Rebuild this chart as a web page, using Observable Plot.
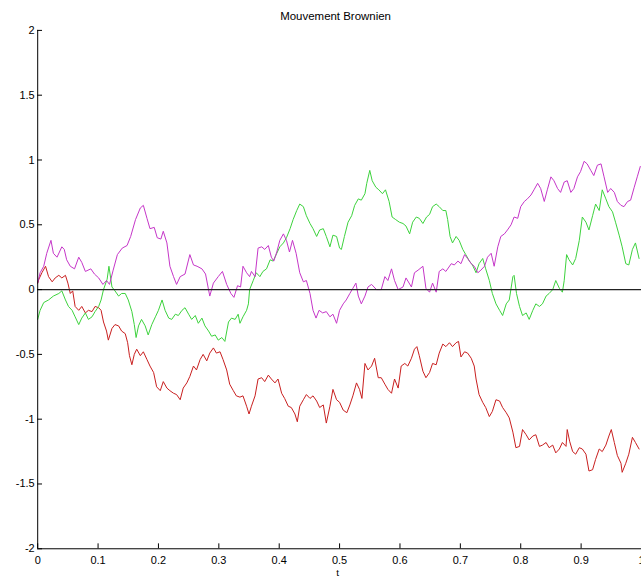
<!DOCTYPE html>
<html>
<head>
<meta charset="utf-8">
<script src="https://cdn.jsdelivr.net/npm/d3@7"></script>
<script src="https://cdn.jsdelivr.net/npm/@observablehq/plot@0.6"></script>
<style>
html, body { margin: 0; padding: 0; background: #fff; overflow: hidden; }
#chart svg { display: block; }
</style>
</head>
<body>
<div id="chart"></div>
<script>
// [t, value] readings of each Brownian path
const magentaPath = [
  [0,0.05],[0.004,0.13],[0.010,0.18],[0.015,0.28],[0.022,0.38],[0.026,0.28],[0.032,0.25],[0.040,0.33],[0.044,0.31],[0.048,0.23],
  [0.054,0.18],[0.061,0.16],[0.068,0.25],[0.073,0.21],[0.079,0.14],[0.088,0.16],[0.094,0.12],[0.101,0.09],[0.108,0.04],[0.114,0.07],
  [0.119,0.04],[0.125,0.15],[0.132,0.27],[0.140,0.32],[0.148,0.34],[0.154,0.41],[0.162,0.54],[0.170,0.63],[0.175,0.65],[0.181,0.55],
  [0.186,0.47],[0.193,0.48],[0.198,0.40],[0.204,0.39],[0.208,0.45],[0.214,0.36],[0.219,0.18],[0.225,0.10],[0.230,0.04],[0.236,0.10],
  [0.244,0.12],[0.252,0.27],[0.258,0.19],[0.264,0.18],[0.272,0.16],[0.278,0.12],[0.285,-0.05],[0.291,0.05],[0.299,0.10],[0.306,0.14],
  [0.313,0.04],[0.320,-0.03],[0.325,-0.06],[0.331,0.03],[0.336,0.02],[0.340,0.18],[0.346,0.13],[0.351,0.10],[0.354,0.14],[0.360,0.10],
  [0.365,0.32],[0.371,0.33],[0.376,0.31],[0.382,0.34],[0.387,0.25],[0.391,0.22],[0.396,0.29],[0.401,0.38],[0.407,0.43],[0.412,0.38],
  [0.417,0.29],[0.422,0.38],[0.428,0.28],[0.434,0.13],[0.440,0.06],[0.445,0.07],[0.451,-0.03],[0.456,-0.16],[0.461,-0.22],[0.466,-0.16],
  [0.472,-0.18],[0.478,-0.17],[0.484,-0.21],[0.489,-0.19],[0.495,-0.26],[0.500,-0.16],[0.506,-0.11],[0.511,-0.08],[0.517,-0.03],[0.522,0.01],
  [0.527,0.05],[0.531,-0.05],[0.536,-0.11],[0.542,-0.05],[0.547,0.02],[0.553,0.04],[0.561,0.00],[0.569,0.00],[0.575,0.10],[0.580,0.07],
  [0.586,0.16],[0.591,0.07],[0.597,0.00],[0.605,0.02],[0.610,0.09],[0.619,0.02],[0.624,0.13],[0.630,0.15],[0.638,0.18],[0.643,0.01],
  [0.649,-0.02],[0.654,0.05],[0.660,-0.02],[0.665,0.14],[0.671,0.16],[0.676,0.14],[0.685,0.20],[0.690,0.19],[0.696,0.22],[0.701,0.20],
  [0.707,0.27],[0.712,0.24],[0.718,0.20],[0.723,0.18],[0.729,0.13],[0.734,0.15],[0.740,0.18],[0.745,0.25],[0.751,0.28],[0.756,0.18],
  [0.762,0.33],[0.767,0.41],[0.773,0.43],[0.778,0.46],[0.784,0.50],[0.789,0.56],[0.795,0.55],[0.800,0.64],[0.806,0.68],[0.811,0.70],
  [0.817,0.73],[0.822,0.77],[0.828,0.82],[0.833,0.78],[0.839,0.68],[0.844,0.77],[0.850,0.87],[0.855,0.84],[0.861,0.78],[0.866,0.75],
  [0.872,0.83],[0.877,0.84],[0.883,0.75],[0.888,0.78],[0.894,0.87],[0.899,0.91],[0.905,0.99],[0.910,0.97],[0.916,0.92],[0.921,0.88],
  [0.927,0.96],[0.933,0.97],[0.938,0.87],[0.944,0.75],[0.949,0.78],[0.955,0.75],[0.960,0.68],[0.966,0.65],[0.971,0.64],[0.977,0.68],
  [0.982,0.69],[0.988,0.79],[0.993,0.87],[0.998,0.95]
];

const greenPath = [
  [0,-0.23],[0.004,-0.16],[0.010,-0.10],[0.018,-0.08],[0.026,-0.05],[0.035,-0.03],[0.040,-0.01],[0.046,-0.08],[0.051,-0.13],[0.057,-0.16],
  [0.062,-0.21],[0.068,-0.27],[0.073,-0.22],[0.079,-0.18],[0.084,-0.23],[0.090,-0.21],[0.095,-0.17],[0.101,-0.13],[0.105,-0.08],[0.109,0.00],
  [0.115,0.08],[0.118,0.18],[0.123,0.02],[0.128,-0.01],[0.134,-0.05],[0.139,-0.03],[0.145,-0.03],[0.150,-0.08],[0.156,-0.17],[0.160,-0.27],
  [0.163,-0.37],[0.167,-0.28],[0.172,-0.23],[0.178,-0.28],[0.183,-0.35],[0.189,-0.27],[0.195,-0.21],[0.200,-0.16],[0.206,-0.08],[0.211,-0.16],
  [0.217,-0.22],[0.222,-0.23],[0.228,-0.19],[0.233,-0.20],[0.239,-0.16],[0.244,-0.14],[0.250,-0.19],[0.255,-0.23],[0.261,-0.20],[0.266,-0.26],
  [0.272,-0.22],[0.277,-0.28],[0.283,-0.32],[0.288,-0.36],[0.294,-0.35],[0.299,-0.39],[0.305,-0.37],[0.310,-0.40],[0.316,-0.25],[0.321,-0.22],
  [0.327,-0.23],[0.332,-0.19],[0.335,-0.26],[0.340,-0.21],[0.346,-0.16],[0.349,-0.11],[0.351,0.00],[0.357,0.07],[0.362,0.13],[0.368,0.10],
  [0.373,0.14],[0.379,0.16],[0.385,0.23],[0.390,0.22],[0.396,0.28],[0.401,0.33],[0.407,0.36],[0.412,0.40],[0.418,0.47],[0.423,0.54],
  [0.429,0.61],[0.434,0.66],[0.440,0.64],[0.445,0.57],[0.451,0.51],[0.456,0.47],[0.462,0.41],[0.467,0.46],[0.473,0.47],[0.478,0.41],
  [0.484,0.33],[0.489,0.42],[0.495,0.41],[0.500,0.32],[0.503,0.31],[0.508,0.41],[0.514,0.52],[0.520,0.57],[0.525,0.65],[0.531,0.70],
  [0.536,0.69],[0.542,0.74],[0.545,0.82],[0.550,0.92],[0.554,0.84],[0.560,0.79],[0.565,0.77],[0.571,0.74],[0.576,0.77],[0.582,0.68],
  [0.587,0.56],[0.593,0.54],[0.599,0.52],[0.605,0.51],[0.610,0.49],[0.616,0.43],[0.621,0.52],[0.627,0.56],[0.632,0.55],[0.638,0.51],
  [0.644,0.56],[0.649,0.58],[0.654,0.64],[0.660,0.66],[0.665,0.64],[0.671,0.61],[0.676,0.61],[0.679,0.54],[0.683,0.41],[0.687,0.36],
  [0.693,0.41],[0.698,0.38],[0.704,0.31],[0.709,0.27],[0.715,0.22],[0.720,0.19],[0.726,0.13],[0.731,0.20],[0.737,0.24],[0.742,0.16],
  [0.748,0.07],[0.753,-0.03],[0.759,-0.11],[0.765,-0.16],[0.770,-0.20],[0.776,-0.11],[0.781,-0.08],[0.787,0.10],[0.789,0.11],[0.793,-0.03],
  [0.798,-0.13],[0.803,-0.20],[0.809,-0.18],[0.814,-0.23],[0.820,-0.16],[0.825,-0.11],[0.831,-0.13],[0.836,-0.11],[0.842,-0.05],[0.847,-0.03],
  [0.853,0.00],[0.858,0.07],[0.864,0.01],[0.869,-0.02],[0.872,0.07],[0.876,0.27],[0.880,0.23],[0.886,0.19],[0.891,0.24],[0.897,0.38],
  [0.902,0.56],[0.908,0.52],[0.913,0.46],[0.919,0.57],[0.924,0.66],[0.930,0.61],[0.935,0.77],[0.941,0.70],[0.946,0.64],[0.952,0.60],
  [0.957,0.52],[0.963,0.42],[0.968,0.33],[0.974,0.20],[0.979,0.19],[0.985,0.31],[0.990,0.36],[0.996,0.24]
];

const redPath = [
  [0,0.05],[0.002,0.08],[0.007,0.13],[0.013,0.18],[0.018,0.10],[0.024,0.06],[0.029,0.09],[0.035,0.11],[0.040,0.09],[0.046,0.11],
  [0.050,0.05],[0.054,-0.03],[0.058,-0.01],[0.062,-0.13],[0.068,-0.16],[0.073,-0.13],[0.079,-0.18],[0.084,-0.16],[0.090,-0.17],[0.095,-0.13],
  [0.101,-0.14],[0.105,-0.16],[0.109,-0.25],[0.114,-0.32],[0.117,-0.39],[0.123,-0.30],[0.128,-0.27],[0.134,-0.28],[0.139,-0.32],[0.145,-0.34],
  [0.149,-0.41],[0.152,-0.51],[0.156,-0.58],[0.160,-0.50],[0.164,-0.46],[0.170,-0.51],[0.175,-0.48],[0.181,-0.54],[0.186,-0.59],[0.192,-0.64],
  [0.197,-0.75],[0.203,-0.78],[0.208,-0.71],[0.214,-0.76],[0.219,-0.78],[0.225,-0.80],[0.230,-0.81],[0.236,-0.85],[0.241,-0.76],[0.247,-0.72],
  [0.252,-0.67],[0.258,-0.59],[0.263,-0.62],[0.269,-0.54],[0.274,-0.50],[0.280,-0.55],[0.285,-0.49],[0.291,-0.45],[0.296,-0.49],[0.302,-0.48],
  [0.307,-0.54],[0.313,-0.62],[0.318,-0.73],[0.324,-0.78],[0.329,-0.82],[0.335,-0.83],[0.340,-0.82],[0.346,-0.90],[0.350,-0.96],[0.354,-0.90],
  [0.360,-0.82],[0.365,-0.69],[0.371,-0.68],[0.376,-0.71],[0.382,-0.66],[0.387,-0.69],[0.393,-0.72],[0.398,-0.69],[0.404,-0.80],[0.409,-0.84],
  [0.415,-0.90],[0.420,-0.91],[0.426,-0.96],[0.430,-1.02],[0.434,-0.90],[0.440,-0.85],[0.445,-0.81],[0.451,-0.84],[0.456,-0.82],[0.462,-0.86],
  [0.467,-0.91],[0.473,-0.89],[0.478,-1.03],[0.484,-0.90],[0.489,-0.77],[0.495,-0.85],[0.500,-0.87],[0.506,-0.93],[0.512,-0.95],[0.517,-0.89],
  [0.522,-0.82],[0.528,-0.72],[0.533,-0.77],[0.537,-0.84],[0.542,-0.57],[0.547,-0.62],[0.553,-0.59],[0.558,-0.53],[0.564,-0.68],[0.569,-0.68],
  [0.575,-0.73],[0.580,-0.77],[0.586,-0.80],[0.591,-0.69],[0.597,-0.76],[0.602,-0.59],[0.608,-0.57],[0.613,-0.59],[0.619,-0.53],[0.624,-0.46],
  [0.628,-0.44],[0.632,-0.51],[0.638,-0.63],[0.643,-0.68],[0.649,-0.64],[0.654,-0.57],[0.660,-0.58],[0.665,-0.49],[0.671,-0.42],[0.676,-0.44],
  [0.682,-0.41],[0.687,-0.44],[0.693,-0.41],[0.697,-0.40],[0.701,-0.52],[0.707,-0.48],[0.712,-0.49],[0.718,-0.53],[0.723,-0.59],[0.726,-0.69],
  [0.731,-0.81],[0.737,-0.87],[0.742,-0.91],[0.748,-0.98],[0.753,-0.94],[0.759,-0.85],[0.765,-0.86],[0.770,-0.91],[0.776,-0.95],[0.781,-0.99],
  [0.787,-1.10],[0.792,-1.22],[0.798,-1.21],[0.803,-1.08],[0.809,-1.12],[0.814,-1.16],[0.820,-1.13],[0.825,-1.12],[0.831,-1.21],[0.836,-1.20],
  [0.842,-1.18],[0.847,-1.22],[0.853,-1.20],[0.858,-1.26],[0.864,-1.23],[0.869,-1.18],[0.875,-1.21],[0.877,-1.08],[0.881,-1.17],[0.886,-1.25],
  [0.891,-1.27],[0.897,-1.22],[0.902,-1.23],[0.908,-1.27],[0.913,-1.40],[0.919,-1.39],[0.924,-1.31],[0.930,-1.23],[0.935,-1.25],[0.941,-1.20],
  [0.946,-1.13],[0.950,-1.08],[0.955,-1.18],[0.960,-1.28],[0.966,-1.34],[0.968,-1.41],[0.974,-1.34],[0.979,-1.27],[0.985,-1.14],[0.990,-1.18],
  [0.996,-1.23]
];

const xTicks = [0, 0.1, 0.2, 0.3, 0.4, 0.5, 0.6, 0.7, 0.8, 0.9, 1];
const yTicks = [-2, -1.5, -1, -0.5, 0, 0.5, 1, 1.5, 2];
const titleText = "Mouvement Brownien";
const xLabel = "t";
const colors = { red: "#c81e1e", green: "#3cd23c", magenta: "#c535c8" };

const toRows = path => path.map(([t, v]) => ({ t, v }));

const chart = Plot.plot({
  width: 643,
  height: 579,
  marginLeft: 37.3,
  marginRight: 0,
  marginTop: 30,
  marginBottom: 29,
  x: { domain: [0, 1], axis: null },
  y: { domain: [-2, 2], axis: null },
  style: { fontFamily: "'Liberation Sans', Arial, Helvetica, sans-serif", fontSize: "11px", background: "#fff", color: "#000" },
  marks: [
    Plot.line(toRows(redPath), { x: "t", y: "v", stroke: colors.red, strokeWidth: 1 }),
    Plot.line(toRows(greenPath), { x: "t", y: "v", stroke: colors.green, strokeWidth: 1 }),
    Plot.line(toRows(magentaPath), { x: "t", y: "v", stroke: colors.magenta, strokeWidth: 1 }),
    Plot.ruleY([0], { stroke: "#222", strokeWidth: 1.2 }),
    Plot.ruleX([0], { y1: -2, y2: 2, stroke: "#000" }),
    Plot.ruleY([-2], { x1: 0, x2: 1, stroke: "#000" }),
    Plot.ruleX(xTicks, { x: d => d, y1: -2, y2: -1.962, stroke: "#000" }),
    Plot.ruleY(yTicks, { y: d => d, x1: 0, x2: 0.008, stroke: "#000" }),
    Plot.axisX(xTicks, { anchor: "bottom", label: null, tickSize: 0, tickPadding: 7, tickFormat: d => String(d) }),
    Plot.axisY(yTicks, { anchor: "left", label: null, tickSize: 0, tickPadding: 3, tickFormat: d => String(d) }),
    Plot.text([titleText], { text: d => d, frameAnchor: "top", lineAnchor: "middle", dy: -14, dx: -4, fontSize: 11.5 }),
    Plot.text([xLabel], { text: d => d, frameAnchor: "bottom", lineAnchor: "bottom", dy: 27.5, dx: -2, fontSize: 10 })
  ]
});

document.getElementById("chart").appendChild(chart);
</script>
</body>
</html>
